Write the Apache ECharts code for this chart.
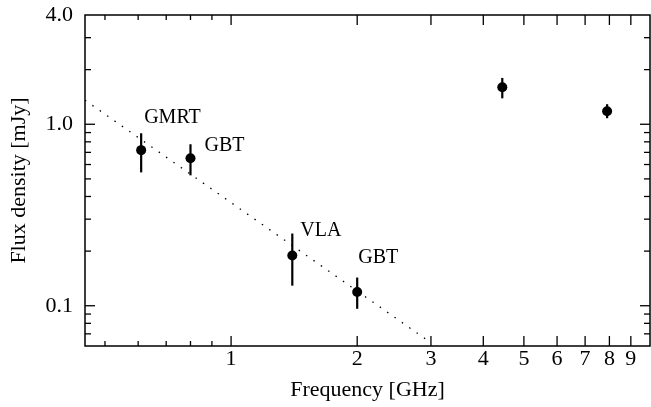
<!DOCTYPE html>
<html>
<head>
<meta charset="utf-8">
<script src="https://cdn.jsdelivr.net/npm/echarts@6/dist/echarts.min.js"></script>
<style>
  html, body { margin: 0; padding: 0; background: #fff; }
  #chart { width: 651px; height: 407px; }
</style>
</head>
<body>
<div id="chart"></div>
<script>
// measurements
const pointNames = ['GMRT', 'GBT', 'VLA', 'GBT', '', ''];
const freqGHz = [0.61, 0.80, 1.40, 2.0, 4.44, 7.9];
const fluxMJy = [0.72, 0.65, 0.189, 0.119, 1.6, 1.18];
const fluxLow = [0.543, 0.523, 0.129, 0.0962, 1.39, 1.08];
const fluxHigh = [0.892, 0.776, 0.250, 0.143, 1.80, 1.29];

// dotted power-law line (end points)
const fitFreq = [0.448, 3.0];
const fitFlux = [1.357, 0.0625];

// axes
const xMin = 0.448, xMax = 10;
const yMin = 0.06, yMax = 4.0;
const xMajorTicks = [1, 2, 3, 4, 5, 6, 7, 8, 9];
const xMajorLabels = ['1', '2', '3', '4', '5', '6', '7', '8', '9'];
const xMinorTicks = [0.5, 0.6, 0.7, 0.8, 0.9];
const yMajorTicks = [0.1, 1.0];
const yMinorTicks = [0.07, 0.08, 0.09, 0.2, 0.3, 0.4, 0.5, 0.6, 0.7, 0.8, 0.9, 2, 3];
const yLabelValues = [0.1, 1.0, 4.0];
const yLabelTexts = ['0.1', '1.0', '4.0'];

// label placement relative to the marker centre (layout, not data)
const labelOffsets = [[3, -32], [14, -12], [8, -25], [1, -34], [0, 0], [0, 0]];

const FONT = '"Liberation Serif", "DejaVu Serif", serif';
const INK = '#000';
const TICK_FONT = 22;

function xTicks(values, len) {
  return {
    type: 'custom', coordinateSystem: 'cartesian2d', clip: false, silent: true, z: 5,
    data: values.map(v => [v, yMin]),
    renderItem: (params, api) => {
      const cs = params.coordSys;
      const px = api.coord([api.value(0), yMin])[0];
      const top = cs.y, bottom = cs.y + cs.height;
      return {
        type: 'group', children: [
          { type: 'line', shape: { x1: px, y1: bottom, x2: px, y2: bottom - len }, style: { stroke: INK, lineWidth: 1.3 } },
          { type: 'line', shape: { x1: px, y1: top, x2: px, y2: top + len }, style: { stroke: INK, lineWidth: 1.3 } }
        ]
      };
    }
  };
}

function yTicks(values, len) {
  return {
    type: 'custom', coordinateSystem: 'cartesian2d', clip: false, silent: true, z: 5,
    data: values.map(v => [xMin, v]),
    renderItem: (params, api) => {
      const cs = params.coordSys;
      const py = api.coord([xMin, api.value(1)])[1];
      const left = cs.x, right = cs.x + cs.width;
      return {
        type: 'group', children: [
          { type: 'line', shape: { x1: left, y1: py, x2: left + len, y2: py }, style: { stroke: INK, lineWidth: 1.3 } },
          { type: 'line', shape: { x1: right, y1: py, x2: right - len, y2: py }, style: { stroke: INK, lineWidth: 1.3 } }
        ]
      };
    }
  };
}

const xLabelSeries = {
  type: 'custom', coordinateSystem: 'cartesian2d', clip: false, silent: true,
  data: xMajorTicks.map(v => [v, yMin]),
  renderItem: (params, api) => {
    const cs = params.coordSys;
    const px = api.coord([api.value(0), yMin])[0];
    return {
      type: 'text', x: px, y: cs.y + cs.height + 13,
      style: { text: xMajorLabels[params.dataIndex], fill: INK, fontFamily: FONT, fontSize: TICK_FONT, align: 'center', verticalAlign: 'middle' }
    };
  }
};

const yLabelSeries = {
  type: 'custom', coordinateSystem: 'cartesian2d', clip: false, silent: true,
  data: yLabelValues.map(v => [xMin, v]),
  renderItem: (params, api) => {
    const cs = params.coordSys;
    const py = api.coord([xMin, api.value(1)])[1];
    return {
      type: 'text', x: cs.x - 12, y: py,
      style: { text: yLabelTexts[params.dataIndex], fill: INK, fontFamily: FONT, fontSize: TICK_FONT, align: 'right', verticalAlign: 'middle' }
    };
  }
};

const errorBars = {
  type: 'custom', coordinateSystem: 'cartesian2d', silent: true, z: 3,
  data: freqGHz.map((f, i) => [f, fluxLow[i], fluxHigh[i]]),
  renderItem: (params, api) => {
    const lo = api.coord([api.value(0), api.value(1)]);
    const hi = api.coord([api.value(0), api.value(2)]);
    return { type: 'line', shape: { x1: lo[0], y1: lo[1], x2: hi[0], y2: hi[1] }, style: { stroke: INK, lineWidth: 2.2 } };
  }
};

const chart = echarts.init(document.getElementById('chart'), null, { renderer: 'canvas' });
chart.setOption({
  animation: false,
  backgroundColor: '#fff',
  grid: {
    left: 85, right: 1, top: 15, bottom: 61, outerBoundsMode: 'none', containLabel: false,
    show: true, borderColor: INK, borderWidth: 1.5, backgroundColor: 'transparent'
  },
  xAxis: {
    type: 'log', logBase: 10, min: xMin, max: xMax,
    axisLine: { show: false }, axisTick: { show: false }, axisLabel: { show: false }, splitLine: { show: false },
    name: 'Frequency [GHz]', nameLocation: 'middle', nameGap: 33,
    nameTextStyle: { color: INK, fontFamily: FONT, fontSize: TICK_FONT }
  },
  yAxis: {
    type: 'log', logBase: 10, min: yMin, max: yMax,
    axisLine: { show: false }, axisTick: { show: false }, axisLabel: { show: false }, splitLine: { show: false },
    name: 'Flux density [mJy]', nameLocation: 'middle', nameGap: 55,
    nameTextStyle: { color: INK, fontFamily: FONT, fontSize: TICK_FONT }
  },
  series: [
    {
      type: 'line', data: fitFreq.map((f, i) => [f, fitFlux[i]]),
      symbol: 'none', silent: true, z: 1,
      lineStyle: { color: INK, width: 1.3, type: [1.5, 7.5] }
    },
    errorBars,
    {
      type: 'scatter', z: 4,
      data: freqGHz.map((f, i) => ({
        value: [f, fluxMJy[i]],
        label: { offset: labelOffsets[i] }
      })),
      symbol: 'circle', symbolSize: 10,
      itemStyle: { color: INK, opacity: 1 },
      label: {
        show: true, position: 'inside', align: 'left', verticalAlign: 'middle',
        color: INK, fontFamily: FONT, fontSize: 20,
        formatter: p => pointNames[p.dataIndex]
      }
    },
    xTicks(xMajorTicks, 10),
    xTicks(xMinorTicks, 5),
    yTicks(yMajorTicks, 10),
    yTicks(yMinorTicks, 6),
    xLabelSeries,
    yLabelSeries
  ]
});
</script>
</body>
</html>
